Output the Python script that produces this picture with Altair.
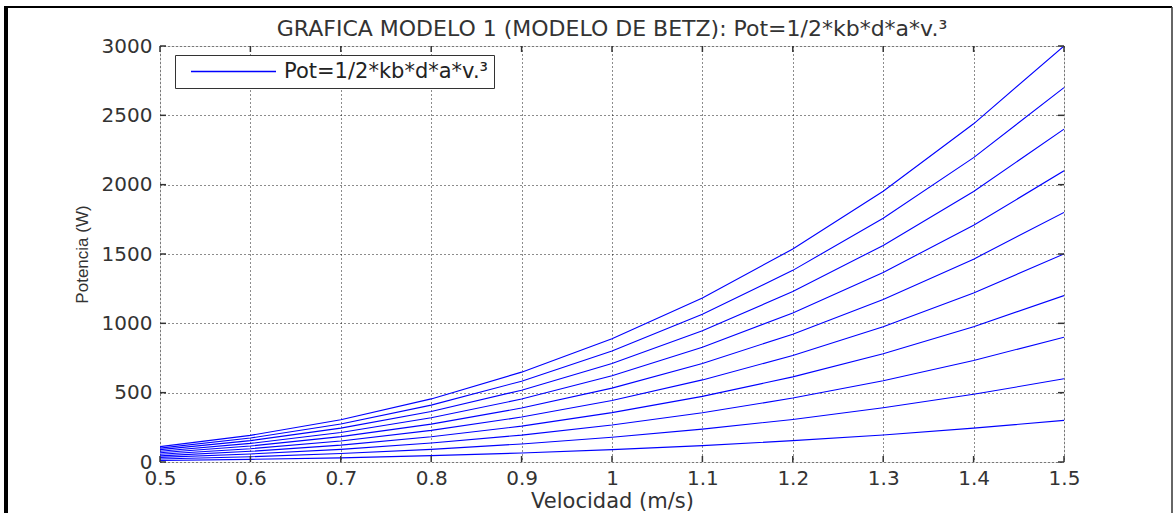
import altair as alt
import pandas as pd

# Velocidad (m/s)
velocidad = [0.5, 0.6, 0.7, 0.8, 0.9, 1.0, 1.1, 1.2, 1.3, 1.4, 1.5]

# Potencia (W) for each of the ten curves
curva_1 = [11, 19, 30, 46, 65, 89, 118, 154, 195, 244, 300]
curva_2 = [22, 38, 61, 91, 130, 178, 237, 307, 391, 488, 600]
curva_3 = [33, 58, 91, 137, 194, 267, 355, 461, 586, 732, 900]
curva_4 = [44, 77, 122, 182, 259, 356, 473, 614, 781, 976, 1200]
curva_5 = [56, 96, 152, 228, 324, 444, 592, 768, 976, 1219, 1500]
curva_6 = [67, 115, 183, 273, 389, 533, 710, 922, 1172, 1463, 1800]
curva_7 = [78, 134, 213, 319, 454, 622, 828, 1075, 1367, 1707, 2100]
curva_8 = [89, 154, 244, 364, 518, 711, 946, 1229, 1562, 1951, 2400]
curva_9 = [100, 173, 274, 410, 583, 800, 1065, 1382, 1758, 2195, 2700]
curva_10 = [111, 192, 305, 455, 648, 889, 1183, 1536, 1953, 2439, 3000]

x_ticks = [0.5, 0.6, 0.7, 0.8, 0.9, 1.0, 1.1, 1.2, 1.3, 1.4, 1.5]
y_ticks = [0, 500, 1000, 1500, 2000, 2500, 3000]

serie = "Pot=1/2*kb*d*a*v.³"
titulo = "GRAFICA MODELO 1 (MODELO DE BETZ): Pot=1/2*kb*d*a*v.³"

curvas = [curva_1, curva_2, curva_3, curva_4, curva_5,
          curva_6, curva_7, curva_8, curva_9, curva_10]
rows = []
for i, c in enumerate(curvas):
    for v, p in zip(velocidad, c):
        rows.append({"v": v, "p": p, "curva": i + 1, "serie": serie})
df = pd.DataFrame(rows)

W, H = 904, 416
FONT = "DejaVu Sans"
BLUE = "#0000ff"

xs = alt.Scale(domain=[0.5, 1.5], nice=False, zero=False)
ys = alt.Scale(domain=[0, 3000], nice=False, zero=True)

x_axis = alt.Axis(values=x_ticks, format="~g", grid=True, labelFlush=False,
                  gridDash=[1, 3], gridColor="#000000", gridOpacity=0.9,
                  gridWidth=1, domain=False, ticks=False, tickSize=0,
                  labelFont=FONT, labelFontSize=20, labelColor="#333333",
                  labelPadding=6, titleFont=FONT, titleFontSize=21,
                  titleFontWeight="normal", titleColor="#333333",
                  titlePadding=2)
y_axis = alt.Axis(values=y_ticks, format="d", grid=True, labelFlush=False,
                  gridDash=[1, 3], gridColor="#000000", gridOpacity=0.9,
                  gridWidth=1, domain=False, ticks=False, tickSize=0,
                  labelFont=FONT, labelFontSize=20, labelColor="#333333",
                  labelPadding=8, titleFont="Liberation Sans",
                  titleFontSize=17, titleFontWeight="normal",
                  titleColor="#333333", titlePadding=10)
X_T = "Velocidad (m/s)"
Y_T = "Potencia (W)"

lines = alt.Chart(df).mark_line(strokeWidth=1.1, clip=True).encode(
    x=alt.X("v:Q", scale=xs, title=X_T, axis=x_axis),
    y=alt.Y("p:Q", scale=ys, title=Y_T, axis=y_axis),
    color=alt.Color("serie:N", scale=alt.Scale(domain=[serie], range=[BLUE]),
                    legend=alt.Legend(title=None, orient="none", legendX=15, legendY=9,
                                      symbolType="M-5,0H5", symbolSize=289,
                                      symbolStrokeWidth=1.3, symbolStrokeColor=BLUE,
                                      symbolFillColor=BLUE, symbolOpacity=1,
                                      symbolOffset=42,
                                      labelFont=FONT, labelFontSize=21,
                                      labelColor="#222222", labelOffset=40,
                                      labelLimit=600, padding=6,
                                      strokeColor="#333333", fillColor="#ffffff")),
    detail="curva:N",
)

xt = pd.DataFrame({"v": x_ticks})
yt = pd.DataFrame({"p": y_ticks})
tick_col = "#333333"

x_bot = alt.Chart(xt).mark_rule(color=tick_col, strokeWidth=1.5).encode(
    x=alt.X("v:Q", scale=xs, title=X_T, axis=x_axis), y=alt.value(H), y2=alt.value(H - 6))
x_top = alt.Chart(xt).mark_rule(color=tick_col, strokeWidth=1.5).encode(
    x=alt.X("v:Q", scale=xs, title=X_T, axis=x_axis), y=alt.value(0), y2=alt.value(6))
y_left = alt.Chart(yt).mark_rule(color=tick_col, strokeWidth=1.5).encode(
    y=alt.Y("p:Q", scale=ys, title=Y_T, axis=y_axis), x=alt.value(0), x2=alt.value(6))
y_right = alt.Chart(yt).mark_rule(color=tick_col, strokeWidth=1.5).encode(
    y=alt.Y("p:Q", scale=ys, title=Y_T, axis=y_axis), x=alt.value(W), x2=alt.value(W - 6))

one = pd.DataFrame({"a": [0]})
b_left = alt.Chart(one).mark_rule(color="#000000", strokeWidth=4).encode(
    x=alt.value(-154), y=alt.value(-39), y2=alt.value(467))
b_top = alt.Chart(one).mark_rule(color="#000000", strokeWidth=2).encode(
    y=alt.value(-39), x=alt.value(-156), x2=alt.value(1012))
b_right = alt.Chart(one).mark_rule(color="#333333", strokeWidth=1.5).encode(
    x=alt.value(1012), y=alt.value(-39), y2=alt.value(467))

chart = alt.layer(
    lines, x_bot, x_top, y_left, y_right, b_left, b_top, b_right
).properties(
    width=W, height=H,
    title=alt.TitleParams(titulo, font=FONT, fontSize=22, fontWeight="normal",
                          color="#333333", anchor="middle", frame="group",
                          offset=9, dy=45),
    padding={"left": 160, "top": 46, "right": 109, "bottom": 51},
    autosize=alt.AutoSizeParams(type="none"),
).configure_view(
    stroke="#333333", strokeWidth=1.5
).configure(background="#ffffff")

chart.save("out.html", embed_options={"renderer": "svg", "actions": False})
